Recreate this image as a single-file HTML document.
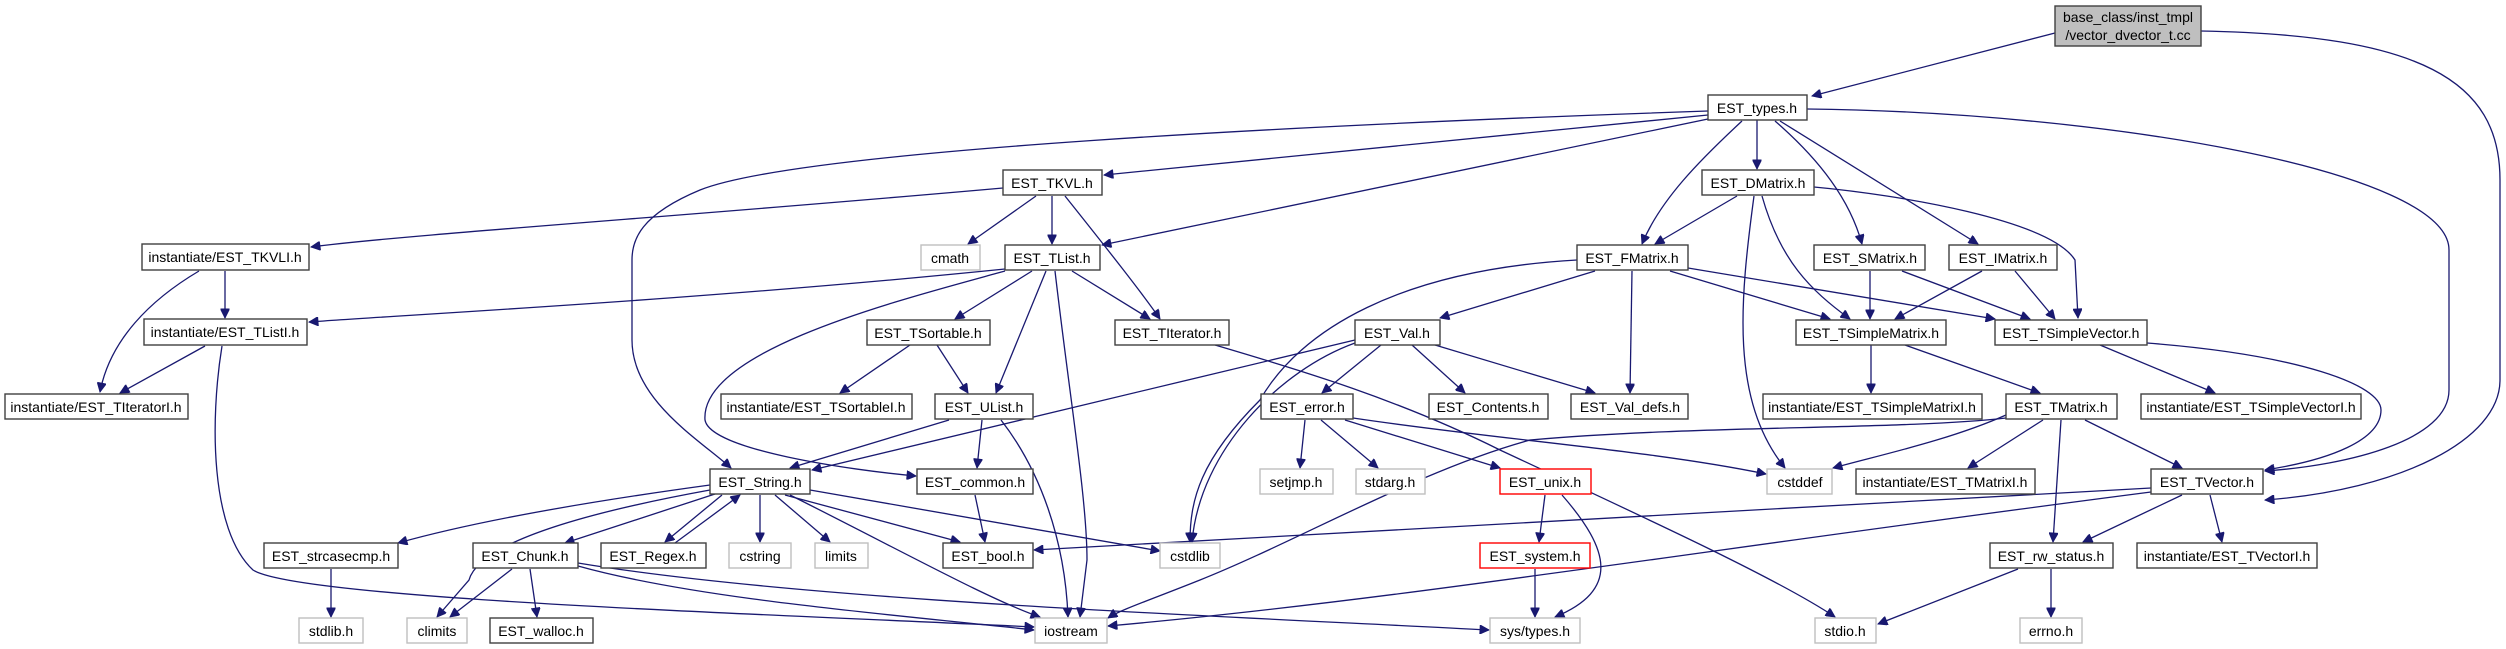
<!DOCTYPE html>
<html><head><meta charset="utf-8"><style>
html,body{margin:0;padding:0;background:#fff;}
svg{display:block;}
text{font-family:"Liberation Sans",sans-serif;font-size:14px;fill:#000;text-anchor:middle;dominant-baseline:central;}
.e{fill:none;stroke:#191970;stroke-width:1.3;marker-end:url(#a);}
.n{fill:#fff;stroke:#404040;stroke-width:1.4;}
.g{fill:#fff;stroke:#bfbfbf;stroke-width:1.4;}
.r{fill:#fff;stroke:#ff0000;stroke-width:1.4;}
</style></head><body>
<svg width="2506" height="649" viewBox="0 0 2506 649" xmlns="http://www.w3.org/2000/svg">
<defs><marker id="a" viewBox="0 0 10 10" refX="10" refY="5" markerWidth="11" markerHeight="9" markerUnits="userSpaceOnUse" orient="auto"><path d="M0,0 L10,5 L0,10 z" fill="#191970" stroke="#191970"/></marker></defs>
<g>
<path class="e" d="M2055,33 L1812,96"/>
<path class="e" d="M2201,31 C2420,35 2500,80 2500,180 L2500,380 C2500,440 2400,490 2265,500"/>
<path class="e" d="M1807,109 C2100,112 2449,170 2449,250 L2449,390 C2449,440 2350,465 2265,471"/>
<path class="e" d="M1780,121 L1978,244"/>
<path class="e" d="M1775,121 C1820,160 1850,200 1862,244"/>
<path class="e" d="M1757,120 L1757,169"/>
<path class="e" d="M1742,121 C1700,160 1660,200 1642,244"/>
<path class="e" d="M1708,119 L1102,245"/>
<path class="e" d="M1708,115 L1104,175"/>
<path class="e" d="M1708,111 C1300,125 800,150 700,190 C640,215 632,240 632,260 L632,340 C632,400 700,440 731,468"/>
<path class="e" d="M1003,188 C700,215 400,235 311,247"/>
<path class="e" d="M1036,196 L968,244"/>
<path class="e" d="M1052,196 L1052,244"/>
<path class="e" d="M1065,196 C1100,240 1140,290 1160,319"/>
<path class="e" d="M225,271 L225,318"/>
<path class="e" d="M199,271 C150,300 110,340 100,392"/>
<path class="e" d="M205,346 L120,393"/>
<path class="e" d="M222,346 C210,420 210,530 253,570 C300,600 800,615 1034,627"/>
<path class="e" d="M1005,269 C700,300 400,315 309,322"/>
<path class="e" d="M1032,271 L955,319"/>
<path class="e" d="M1072,271 L1150,319"/>
<path class="e" d="M1046,271 L996,393"/>
<path class="e" d="M1055,271 C1070,400 1087,500 1087,560 L1080,617"/>
<path class="e" d="M1005,271 C900,300 700,350 705,420 C710,450 850,470 916,476"/>
<path class="e" d="M910,345 L840,393"/>
<path class="e" d="M937,345 L968,393"/>
<path class="e" d="M1215,345 C1300,370 1400,400 1500,450 C1650,520 1780,580 1835,617"/>
<path class="e" d="M949,420 L790,468"/>
<path class="e" d="M982,420 L977,468"/>
<path class="e" d="M1001,420 C1040,470 1065,540 1068,617"/>
<path class="e" d="M1737,196 L1655,244"/>
<path class="e" d="M1754,196 C1740,300 1730,400 1785,468"/>
<path class="e" d="M1762,196 C1780,260 1810,290 1850,319"/>
<path class="e" d="M1814,187 C1900,195 2050,220 2075,260 L2078,318"/>
<path class="e" d="M1595,271 L1440,318"/>
<path class="e" d="M1632,271 L1630,393"/>
<path class="e" d="M1670,271 L1830,319"/>
<path class="e" d="M1688,268 L1995,319"/>
<path class="e" d="M1577,260 C1400,270 1300,330 1260,400 C1200,460 1190,500 1190,542"/>
<path class="e" d="M1870,271 L1870,319"/>
<path class="e" d="M1902,271 L2030,319"/>
<path class="e" d="M1982,271 L1895,319"/>
<path class="e" d="M2015,271 L2055,319"/>
<path class="e" d="M1381,345 L1322,393"/>
<path class="e" d="M1412,345 L1465,393"/>
<path class="e" d="M1435,345 L1595,393"/>
<path class="e" d="M1355,340 L812,470"/>
<path class="e" d="M1355,343 C1280,370 1200,450 1192,542"/>
<path class="e" d="M1305,420 L1300,468"/>
<path class="e" d="M1321,420 L1378,468"/>
<path class="e" d="M1345,420 L1500,468"/>
<path class="e" d="M1353,418 C1500,440 1650,450 1766,474"/>
<path class="e" d="M1545,495 L1539,542"/>
<path class="e" d="M1562,495 C1610,550 1620,590 1555,617"/>
<path class="e" d="M1535,569 L1535,617"/>
<path class="e" d="M1871,345 L1871,393"/>
<path class="e" d="M1905,345 L2040,393"/>
<path class="e" d="M2100,345 L2215,393"/>
<path class="e" d="M2147,343 C2300,355 2381,385 2381,410 C2381,440 2330,460 2265,470"/>
<path class="e" d="M2006,415 C1950,440 1880,455 1833,468"/>
<path class="e" d="M2043,420 L1968,468"/>
<path class="e" d="M2061,420 L2053,542"/>
<path class="e" d="M2085,420 L2182,468"/>
<path class="e" d="M2006,418 C1900,430 1700,425 1530,440 C1420,470 1300,540 1200,580 C1150,600 1120,610 1108,618"/>
<path class="e" d="M2151,488 L1034,550"/>
<path class="e" d="M2151,492 C1700,550 1400,600 1108,626"/>
<path class="e" d="M2182,495 L2083,542"/>
<path class="e" d="M2210,495 L2222,542"/>
<path class="e" d="M2018,569 L1878,624"/>
<path class="e" d="M2051,569 L2051,617"/>
<path class="e" d="M710,485 C600,500 480,520 398,543"/>
<path class="e" d="M715,494 L565,543"/>
<path class="e" d="M722,495 L665,542"/>
<path class="e" d="M675,543 L740,495"/>
<path class="e" d="M710,490 C600,510 480,540 469,580 L437,617"/>
<path class="e" d="M760,495 L760,542"/>
<path class="e" d="M775,495 L830,542"/>
<path class="e" d="M785,495 L960,542"/>
<path class="e" d="M790,495 C900,550 990,600 1040,617"/>
<path class="e" d="M810,490 L1160,551"/>
<path class="e" d="M331,569 L331,617"/>
<path class="e" d="M512,569 L450,617"/>
<path class="e" d="M530,569 L537,617"/>
<path class="e" d="M578,566 C700,600 900,615 1034,630"/>
<path class="e" d="M578,563 C800,600 1200,615 1489,630"/>
<path class="e" d="M975,495 L985,542"/>
</g>
<g>
<rect x="2055" y="6" width="146" height="40" fill="#bfbfbf" stroke="#404040" stroke-width="1.4"/>
<text x="2128" y="17">base_class/inst_tmpl</text><text x="2128" y="35">/vector_dvector_t.cc</text>

<rect class="n" x="1708" y="95" width="99" height="25"/><text x="1757" y="108">EST_types.h</text>
<rect class="n" x="1003" y="170" width="99" height="25"/><text x="1052" y="183">EST_TKVL.h</text>
<rect class="n" x="1702" y="170" width="112" height="25"/><text x="1758" y="183">EST_DMatrix.h</text>

<rect class="n" x="142" y="244" width="167" height="26"/><text x="225" y="257">instantiate/EST_TKVLI.h</text>
<rect class="g" x="921" y="245" width="59" height="25"/><text x="950" y="258">cmath</text>
<rect class="n" x="1005" y="245" width="95" height="25"/><text x="1052" y="258">EST_TList.h</text>
<rect class="n" x="1577" y="245" width="111" height="25"/><text x="1632" y="258">EST_FMatrix.h</text>
<rect class="n" x="1814" y="245" width="111" height="25"/><text x="1870" y="258">EST_SMatrix.h</text>
<rect class="n" x="1949" y="245" width="108" height="25"/><text x="2003" y="258">EST_IMatrix.h</text>

<rect class="n" x="144" y="319" width="163" height="26"/><text x="225" y="332">instantiate/EST_TListI.h</text>
<rect class="n" x="867" y="320" width="123" height="25"/><text x="928" y="333">EST_TSortable.h</text>
<rect class="n" x="1115" y="320" width="114" height="25"/><text x="1172" y="333">EST_TIterator.h</text>
<rect class="n" x="1355" y="320" width="85" height="25"/><text x="1397" y="333">EST_Val.h</text>
<rect class="n" x="1796" y="320" width="150" height="25"/><text x="1871" y="333">EST_TSimpleMatrix.h</text>
<rect class="n" x="1995" y="320" width="152" height="25"/><text x="2071" y="333">EST_TSimpleVector.h</text>

<rect class="n" x="5" y="394" width="183" height="25"/><text x="96" y="407">instantiate/EST_TIteratorI.h</text>
<rect class="n" x="721" y="394" width="191" height="25"/><text x="816" y="407">instantiate/EST_TSortableI.h</text>
<rect class="n" x="935" y="394" width="98" height="25"/><text x="984" y="407">EST_UList.h</text>
<rect class="n" x="1261" y="394" width="92" height="25"/><text x="1307" y="407">EST_error.h</text>
<rect class="n" x="1429" y="394" width="119" height="25"/><text x="1488" y="407">EST_Contents.h</text>
<rect class="n" x="1571" y="394" width="117" height="25"/><text x="1630" y="407">EST_Val_defs.h</text>
<rect class="n" x="1763" y="394" width="219" height="25"/><text x="1872" y="407">instantiate/EST_TSimpleMatrixI.h</text>
<rect class="n" x="2006" y="394" width="111" height="25"/><text x="2061" y="407">EST_TMatrix.h</text>
<rect class="n" x="2141" y="394" width="220" height="25"/><text x="2251" y="407">instantiate/EST_TSimpleVectorI.h</text>

<rect class="n" x="710" y="469" width="100" height="25"/><text x="760" y="482">EST_String.h</text>
<rect class="n" x="917" y="469" width="116" height="25"/><text x="975" y="482">EST_common.h</text>
<rect class="g" x="1260" y="469" width="73" height="25"/><text x="1296" y="482">setjmp.h</text>
<rect class="g" x="1356" y="469" width="69" height="25"/><text x="1390" y="482">stdarg.h</text>
<rect class="r" x="1500" y="469" width="91" height="25"/><text x="1545" y="482">EST_unix.h</text>
<rect class="g" x="1767" y="469" width="65" height="25"/><text x="1800" y="482">cstddef</text>
<rect class="n" x="1856" y="469" width="179" height="25"/><text x="1945" y="482">instantiate/EST_TMatrixI.h</text>
<rect class="n" x="2151" y="469" width="112" height="25"/><text x="2207" y="482">EST_TVector.h</text>

<rect class="n" x="264" y="543" width="134" height="25"/><text x="331" y="556">EST_strcasecmp.h</text>
<rect class="n" x="473" y="543" width="105" height="25"/><text x="525" y="556">EST_Chunk.h</text>
<rect class="n" x="601" y="543" width="105" height="25"/><text x="653" y="556">EST_Regex.h</text>
<rect class="g" x="729" y="543" width="62" height="25"/><text x="760" y="556">cstring</text>
<rect class="g" x="815" y="543" width="53" height="25"/><text x="841" y="556">limits</text>
<rect class="n" x="943" y="543" width="90" height="25"/><text x="988" y="556">EST_bool.h</text>
<rect class="g" x="1160" y="543" width="60" height="25"/><text x="1190" y="556">cstdlib</text>
<rect class="r" x="1480" y="543" width="110" height="25"/><text x="1535" y="556">EST_system.h</text>
<rect class="n" x="1990" y="543" width="123" height="25"/><text x="2051" y="556">EST_rw_status.h</text>
<rect class="n" x="2137" y="543" width="180" height="25"/><text x="2227" y="556">instantiate/EST_TVectorI.h</text>

<rect class="g" x="299" y="618" width="64" height="25"/><text x="331" y="631">stdlib.h</text>
<rect class="g" x="407" y="618" width="60" height="25"/><text x="437" y="631">climits</text>
<rect class="n" x="490" y="618" width="103" height="25"/><text x="541" y="631">EST_walloc.h</text>
<rect class="g" x="1035" y="618" width="72" height="25"/><text x="1071" y="631">iostream</text>
<rect class="g" x="1490" y="618" width="90" height="25"/><text x="1535" y="631">sys/types.h</text>
<rect class="g" x="1815" y="618" width="61" height="25"/><text x="1845" y="631">stdio.h</text>
<rect class="g" x="2020" y="618" width="62" height="25"/><text x="2051" y="631">errno.h</text>
</g>
</svg>
</body></html>
